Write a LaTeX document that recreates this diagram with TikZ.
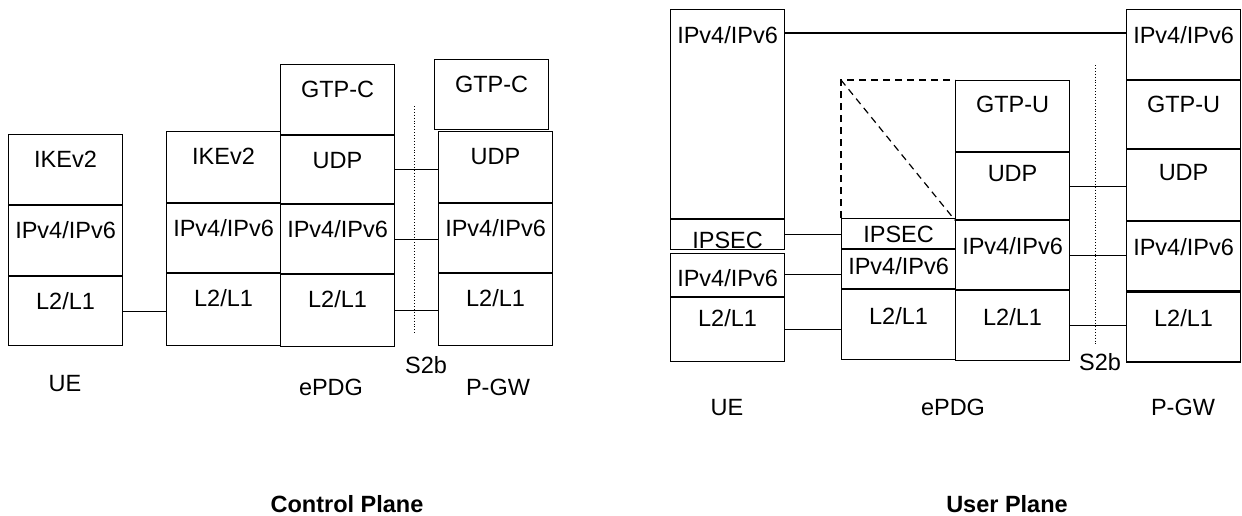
\documentclass[tikz,border=0pt]{standalone}
\usepackage{fontspec}
\setmainfont{Liberation Sans}
\usetikzlibrary{positioning}

\tikzset{
  layer/.style={draw, line width=1.1pt, anchor=north west, inner sep=0pt,
    minimum width=114pt, text height=33pt, text depth=#1},
  layer/.default=37pt,
  link/.style={line width=1.2pt},
  refline/.style={dotted, line width=0.9pt},
  tag/.style={anchor=base}
}

\begin{document}
\begin{tikzpicture}[x=1pt, y=-1pt, every node/.style={font=\fontsize{23.5pt}{28pt}\selectfont}]
\useasboundingbox (0,0) rectangle (1242,515);

% control plane
\node[layer] (cueike) at (8,134) {IKEv2};
\node[layer, below=0pt of cueike] (cueip) {IPv4/IPv6};
\node[layer=36pt, below=0pt of cueip] (cuel2) {L2/L1};

\node[layer=38pt] (cepike) at (166,131) {IKEv2};
\node[layer=36pt, below=0pt of cepike] (cepipa) {IPv4/IPv6};
\node[layer=39pt, below=0pt of cepipa] (cepl2a) {L2/L1};
\node[layer] (cepgtp) at (280,64) {GTP-C};
\node[layer=35pt, below=0pt of cepgtp] (cepudp) {UDP};
\node[layer=36pt, below=0pt of cepudp] (cepipb) {IPv4/IPv6};
\node[layer=39pt, below=0pt of cepipb] (cepl2b) {L2/L1};

\node[layer] (cpggtp) at (434,59) {GTP-C};
\node[layer=38pt] (cpgudp) at (438,131) {UDP};
\node[layer=36pt, below=0pt of cpgudp] (cpgip) {IPv4/IPv6};
\node[layer=39pt, below=0pt of cpgip] (cpgl2) {L2/L1};

\draw[link] (cuel2.east) -- (cuel2.east -| cepl2a.west);
\foreach \a/\b in {cepudp/cpgudp, cepipb/cpgip, cepl2b/cpgl2}
  \draw[link] (\a.east) -- (\a.east -| \b.west);
\draw[refline] (414,106) -- (414,335);

\node[tag] (cuelab) at (65,391.5) {UE};
\node[tag] (ceplab) at (331,395.5) {ePDG};
\node[tag] (cs2b) at (426,373.5) {S2b};
\node[tag] (cpglab) at (498,395.5) {P-GW};
\node[tag, font=\fontsize{23.5pt}{28pt}\selectfont\bfseries] (cplane) at (347,512) {Control Plane};

% user plane
\node[layer=175pt, text height=34pt] (uueip) at (670,9) {IPv4/IPv6};
\node[layer=1pt, text height=29pt, below=0pt of uueip] (uuesec) {IPSEC};
\node[layer=10pt, below=2.5pt of uuesec] (uueipb) {IPv4/IPv6};
\node[layer=35pt, text height=29pt, below=0pt of uueipb] (uuel2) {L2/L1};

\node[layer=6pt, text height=24pt] (uepsec) at (841,218) {IPSEC};
\node[layer=14pt, text height=25pt, below=0pt of uepsec] (uepip) {IPv4/IPv6};
\node[layer=35pt, text height=35pt, below=0pt of uepip] (uepl2a) {L2/L1};
\node[layer=39pt, text height=32pt] (uepgtp) at (955,80) {GTP-U};
\node[layer=38pt, text height=29pt, below=0pt of uepgtp] (uepudp) {UDP};
\node[layer=35pt, text height=34pt, below=0pt of uepudp] (uepipb) {IPv4/IPv6};
\node[layer=35pt, text height=35pt, below=0pt of uepipb] (uepl2b) {L2/L1};

\node[layer=36pt, text height=34pt] (upgtop) at (1126,9) {IPv4/IPv6};
\node[layer=36pt, text height=32pt, below=0pt of upgtop] (upggtp) {GTP-U};
\node[layer=40pt, text height=31pt, below=0pt of upggtp] (upgudp) {UDP};
\node[layer=35pt, text height=34pt, below=0pt of upgudp] (upgip) {IPv4/IPv6};
\node[layer=35pt, text height=35pt, below=0pt of upgip] (upgl2) {L2/L1};

\draw[link] ([yshift=-24pt]uueip.north east) -- ([yshift=-24pt]uueip.north east -| upgtop.west);
\foreach \a/\b in {uuesec/uepsec, uueipb/uepip, uuel2/uepl2a, uepudp/upgudp, uepipb/upgip, uepl2b/upgl2}
  \draw[link] (\a.east) -- (\a.east -| \b.west);
\draw[link, dash pattern=on 7pt off 5pt] (uepsec.north west) |- (uepgtp.north west);
\draw[link, dash pattern=on 7pt off 5pt] (uepsec.north west |- uepgtp.north west) -- (uepipb.north west);
\draw[refline] (1095,65) -- (1095,345);

\node[tag] (uuelab) at (727,415.5) {UE};
\node[tag] (ueplab) at (953,415.5) {ePDG};
\node[tag] (us2b) at (1100,370.5) {S2b};
\node[tag] (upglab) at (1183,415.5) {P-GW};
\node[tag, font=\fontsize{23.5pt}{28pt}\selectfont\bfseries] (uplane) at (1007,512) {User Plane};
\end{tikzpicture}
\end{document}
